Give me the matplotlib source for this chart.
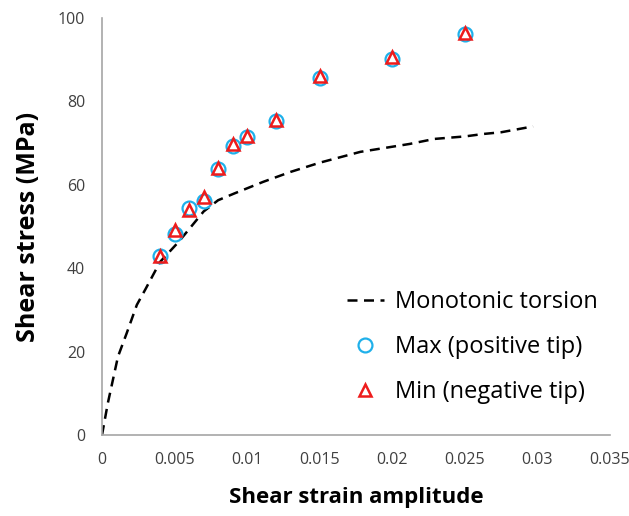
import matplotlib.pyplot as plt

plt.rcParams['font.family'] = ['Open Sans', 'DejaVu Sans']

# monotonic torsion curve (strain, stress MPa)
mono_strain = [0, 0.0004, 0.0007, 0.0011, 0.0017, 0.0024, 0.0030, 0.0040, 0.0053,
               0.0070, 0.0080, 0.0091, 0.0111, 0.0130, 0.0150, 0.0178, 0.0212,
               0.0229, 0.0250, 0.0263, 0.0275, 0.0297]
mono_stress = [0, 7.6, 12.4, 18.8, 24.4, 31.2, 35.0, 41.5, 46.4, 53.6, 56.3, 57.9,
               60.7, 63.1, 65.3, 67.9, 69.8, 71.0, 71.6, 72.2, 72.6, 74.0]

# cyclic tips
amp = [0.004, 0.005, 0.006, 0.007, 0.008, 0.009, 0.010, 0.012, 0.015, 0.020, 0.025]
max_tip = [42.9, 48.2, 54.5, 56.0, 63.7, 69.3, 71.4, 75.2, 85.5, 90.1, 96.1]
min_tip = [42.9, 49.2, 54.0, 57.0, 64.0, 69.8, 71.6, 75.6, 86.0, 90.6, 96.5]

xticks = [0, 0.005, 0.01, 0.015, 0.02, 0.025, 0.03, 0.035]
xticklabels = ['0', '0.005', '0.01', '0.015', '0.02', '0.025', '0.03', '0.035']
yticks = [0, 20, 40, 60, 80, 100]

fig = plt.figure(figsize=(6.29, 5.16), dpi=100)
ax = fig.add_axes([102 / 629, 1 - 435 / 516, 508 / 629, 417 / 516])

ax.plot(mono_strain, mono_stress, color='black', lw=1.8, ls=(0, (4, 2.6)),
        label='Monotonic torsion')
ax.plot(amp, max_tip, ls='none', marker='o', ms=10, mfc='none', mec='#1fb0ea',
        mew=1.6, label='Max (positive tip)')
ax.plot(amp, min_tip, ls='none', marker='^', ms=9, mfc='none', mec='#ee1c1c',
        mew=1.8, label='Min (negative tip)')

ax.set_xlim(0, 0.035)
ax.set_ylim(0, 100)
ax.set_xticks(xticks)
ax.set_xticklabels(xticklabels)
ax.set_yticks(yticks)
ax.tick_params(length=0, labelsize=11.5, colors='#404040', pad=12)
for s in ['top', 'right']:
    ax.spines[s].set_visible(False)
for s in ['left', 'bottom']:
    ax.spines[s].set_color('#a6a6a6')
    ax.spines[s].set_linewidth(1.2)

ax.set_xlabel('Shear strain amplitude', fontsize=16, fontweight='bold', labelpad=14)
ax.set_ylabel('Shear stress (MPa)', fontsize=18, fontweight='bold', labelpad=12)

fig.legend(handles=ax.get_lines(), loc='upper left',
           bbox_to_anchor=(347 / 629, 1 - 290 / 516), frameon=False,
           fontsize=17, labelspacing=0.9, handlelength=1.55, handletextpad=0.5,
           borderpad=0, borderaxespad=0)

plt.savefig('out.png', dpi=100)
plt.close()
